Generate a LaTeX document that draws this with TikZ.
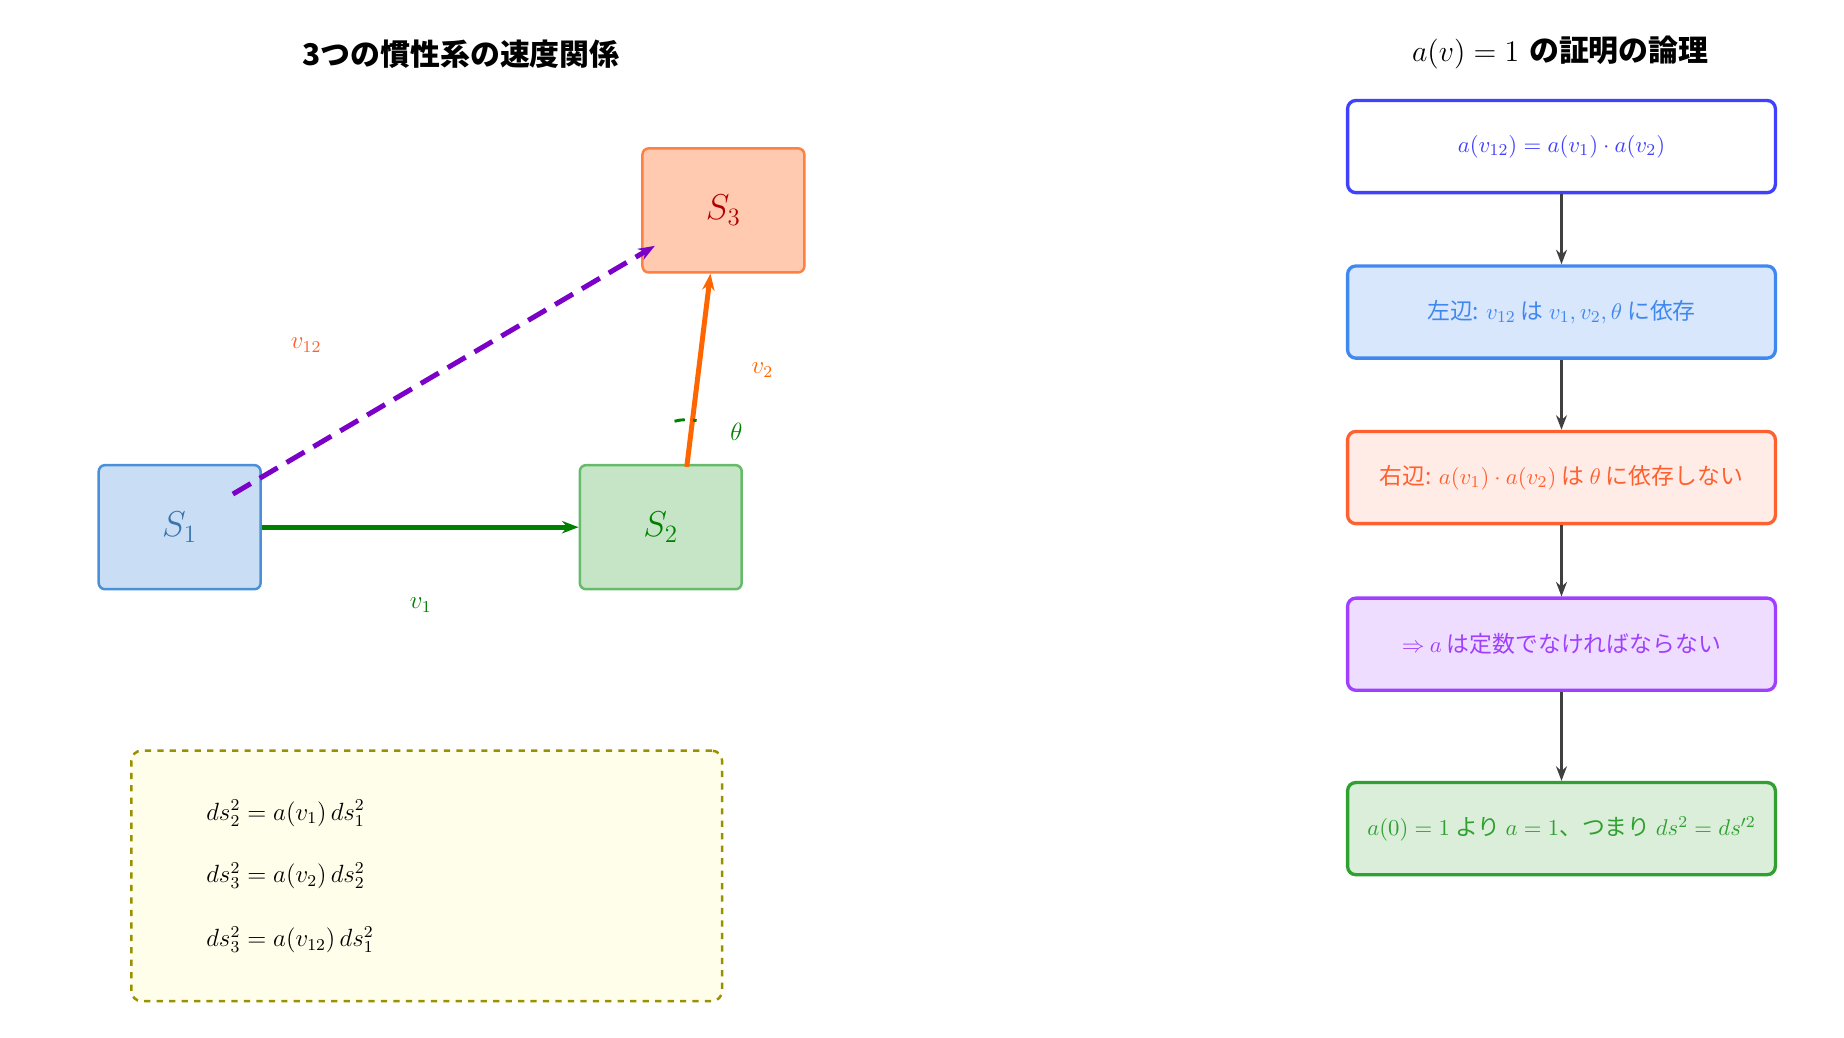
\documentclass[tikz,border=0pt]{standalone}
\usepackage{fontspec}
\newfontfamily\cjk{Noto Sans CJK JP}
\usetikzlibrary{positioning,arrows.meta}
\definecolor{sblue}{HTML}{4A90D9}
\definecolor{sgreen}{HTML}{66BB6A}
\definecolor{sorange}{HTML}{FF8040}
\definecolor{fgreen}{HTML}{008000}
\definecolor{forange}{HTML}{FF6600}
\definecolor{fpurple}{HTML}{7B00C8}
\definecolor{lblue}{HTML}{4040FF}
\definecolor{lsky}{HTML}{4088F0}
\definecolor{lred}{HTML}{FF6030}
\definecolor{lviolet}{HTML}{A040FF}
\definecolor{lgreen}{HTML}{30A030}

\begin{document}
\begin{tikzpicture}[x=0.02cm, y=-0.02cm, thick,
    frame/.style={draw, rounded corners=3pt, line width=1.2pt, minimum width=2.74cm, minimum height=2.1cm},
    stage/.style={draw, rounded corners=4pt, line width=1.6pt, minimum width=7.24cm, minimum height=1.56cm, font=\cjk\fontsize{11}{13}\selectfont},
    link/.style={-{Stealth[length=7pt]}, line width=1.6pt, black!75}]

    \useasboundingbox (0,0) rectangle (1560,878);

    % titles
    \node at (390,46) (T1) {\cjk\bfseries\Large 3つの慣性系の速度関係};
    \node at (1320,44) (T2) {\Large $a(v)=1$ {\cjk\bfseries の証明の論理}};

    % frames
    \node[frame, draw=sblue, fill=sblue!30, text=sblue!80!black] at (152,446) (S1) {\LARGE $S_1$};
    \node[frame, draw=sgreen, fill=sgreen!38, text=fgreen] at (559,446) (S2) {\LARGE $S_2$};
    \node[frame, draw=sorange, fill=sorange!42, text=red!70!black] at (612,178) (S3) {\LARGE $S_3$};

    \coordinate (P1) at (197,418);
    \coordinate (P2) at (581,395);
    \draw[-{Stealth[length=8pt]}, line width=2.4pt, fgreen] (S1.east) -- (S2.west);
    \draw[-{Stealth[length=8pt]}, line width=2.4pt, forange] (P2) -- (S3.south -| 601,0);
    \draw[-{Stealth[length=8pt]}, line width=2.4pt, fpurple, dash pattern=on 10pt off 5pt] (P1) -- (554,208);
    \draw[fgreen, line width=1.4pt, dash pattern=on 5pt off 4pt] (P2) ++(-105:40) arc[start angle=-105, end angle=-78, radius=40];

    \node[fgreen] at (356,512) (L1) {\large $v_1$};
    \node[forange] at (645,313) (L2) {\large $v_2$};
    \node[lred] at (259,292) (L12) {\large $v_{12}$};
    \node[fgreen] at (623,365) (Lt) {\large $\theta$};

    % relations
    \node[draw=olive!90!yellow, fill=yellow!8, dashed, rounded corners=5pt, line width=1.2pt, minimum width=10.0cm, minimum height=4.24cm] at (361,741) (R) {};
    \node[anchor=west, font=\large] at (168,688) (R1) {$ds_2^2 = a(v_1)\,ds_1^2$};
    \node[anchor=west, font=\large] at (168,741) (R2) {$ds_3^2 = a(v_2)\,ds_2^2$};
    \node[anchor=west, font=\large] at (168,795) (R3) {$ds_3^2 = a(v_{12})\,ds_1^2$};

    % logic
    \node[stage, draw=lblue, fill=white, text=lblue] at (1321,124) (A) {$a(v_{12}) = a(v_1)\cdot a(v_2)$};
    \node[stage, draw=lsky, fill=lsky!20, text=lsky] at (1321,264) (B) {左辺: $v_{12}$ は $v_1, v_2, \theta$ に依存};
    \node[stage, draw=lred, fill=lred!12, text=lred] at (1321,404) (C) {右辺: $a(v_1)\cdot a(v_2)$ は $\theta$ に依存しない};
    \node[stage, draw=lviolet, fill=lviolet!18, text=lviolet] at (1321,545) (D) {$\Rightarrow$ $a$ は定数でなければならない};
    \node[stage, draw=lgreen, fill=lgreen!18, text=lgreen] at (1321,701) (E) {$a(0)=1$ より $a=1$、つまり $ds^2 = ds'^2$};

    \draw[link] (A) -- (B);
    \draw[link] (B) -- (C);
    \draw[link] (C) -- (D);
    \draw[link] (D) -- (E);

\end{tikzpicture}
\end{document}
